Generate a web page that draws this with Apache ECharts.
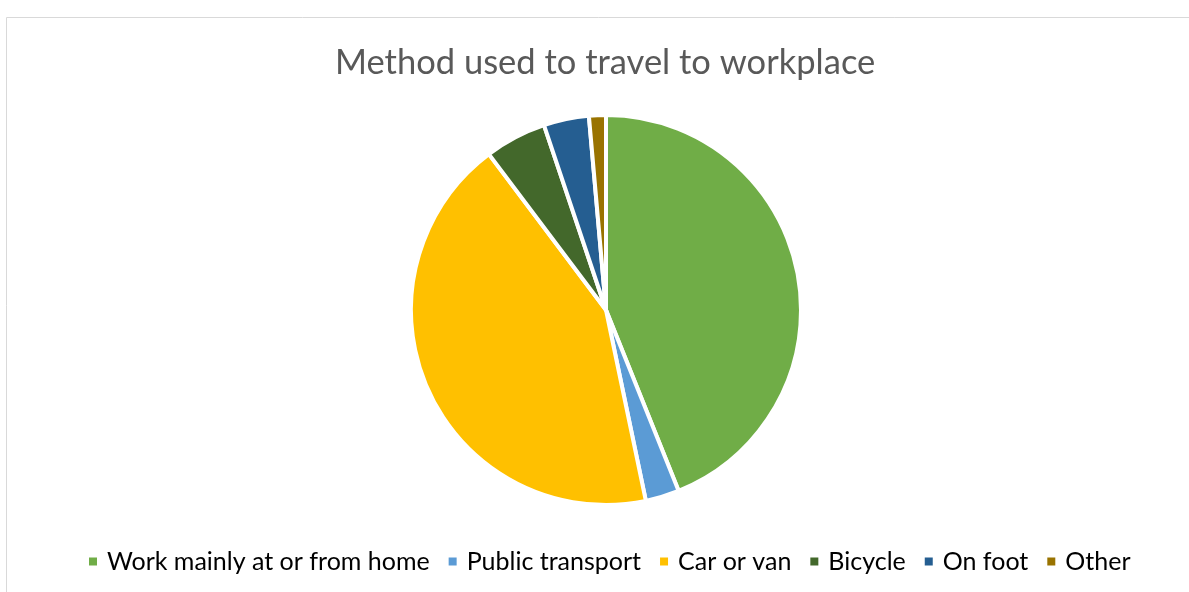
<!DOCTYPE html>
<html>
<head>
<meta charset="utf-8">
<script src="https://cdn.jsdelivr.net/npm/echarts@6/dist/echarts.min.js"></script>
<style>
html,body{margin:0;padding:0;background:#fff;}
#chart{width:1189px;height:592px;}
</style>
</head>
<body>
<div id="chart"></div>
<script>
const categories = ["Work mainly at or from home", "Public transport", "Car or van", "Bicycle", "On foot", "Other"];
const values = [43.9, 2.8, 43.0, 5.1, 3.75, 1.4];
const colors = ["#70AD47", "#5B9BD5", "#FFC000", "#43682B", "#255E91", "#997300"];

const chart = echarts.init(document.getElementById('chart'), null, {renderer: 'canvas'});
chart.setOption({
  animation: false,
  color: colors,
  graphic: [{
    type: 'rect', left: 4, top: 15, silent: true,
    shape: {width: 1200, height: 600},
    style: {fill: 'none', stroke: '#d9d9d9', lineWidth: 1}
  }],
  title: {
    text: 'Method used to travel to workplace',
    left: 330, top: 40,
    textStyle: {fontFamily: 'Lato', fontWeight: 'normal', fontSize: 34.5, color: '#595959'}
  },
  legend: {
    top: 544, left: 82,
    itemWidth: 10, itemHeight: 10, itemGap: 17,
    icon: 'rect',
    textStyle: {fontFamily: 'Lato', fontSize: 25, color: '#000', padding: [0, 0, 0, 4]},
    data: categories
  },
  series: [{
    type: 'pie',
    center: [606, 310],
    radius: [0, 195],
    startAngle: 90,
    clockwise: true,
    label: {show: false},
    labelLine: {show: false},
    itemStyle: {borderColor: '#fff', borderWidth: 4},
    data: categories.map((c, i) => ({name: c, value: values[i]}))
  }]
});
</script>
</body>
</html>
